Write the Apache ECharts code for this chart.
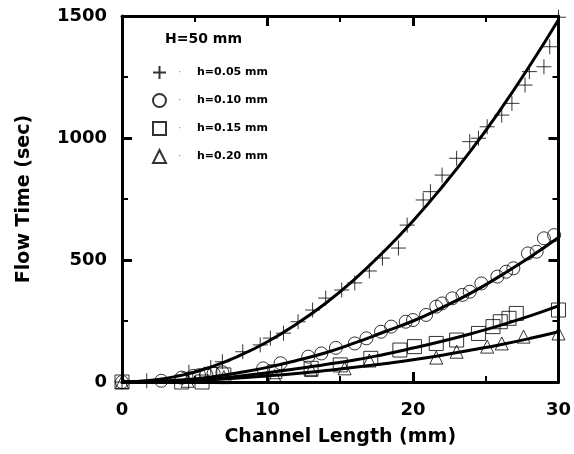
<!DOCTYPE html>
<html>
<head>
<meta charset="utf-8">
<script src="https://cdn.jsdelivr.net/npm/echarts@6/dist/echarts.min.js"></script>
<style>html,body{margin:0;padding:0;background:#fff}#c{width:574px;height:454px}</style>
</head>
<body>
<div id="c"></div>
<script>
// Tick labels
const xTicks = [0, 10, 20, 30];
const yTicks = [0, 500, 1000, 1500];

// Measured points (x = channel length mm, y = flow time s)
const h005 = [[0,0],[1.7,5],[4.6,40],[6.1,60],[6.9,83],[8.3,124],[9.5,152],[10.2,180],[11.1,200],[12.1,247],[13.1,295],[14.0,344],[15.1,377],[16.0,406],[17.0,455],[17.9,508],[19.0,549],[19.6,643],[20.7,746],[21.2,780],[22.0,848],[23.0,917],[23.9,985],[24.5,999],[25.1,1046],[26.1,1094],[26.8,1142],[27.7,1217],[28.0,1272],[29.0,1292],[29.4,1374],[30,1495]];
const h010 = [[0,0],[2.7,5],[4.1,18],[4.9,25],[5.3,28],[5.8,30],[6.3,35],[6.9,40],[9.7,56],[10.9,77],[12.8,104],[13.7,117],[14.7,140],[16.0,158],[16.8,179],[17.8,206],[18.5,227],[19.5,247],[20.0,254],[20.9,275],[21.6,309],[22.0,322],[22.7,343],[23.4,357],[23.9,370],[24.7,404],[25.8,432],[26.4,452],[26.9,466],[27.9,527],[28.5,534],[29.0,589],[29.7,602]];
const h015 = [[0,0],[4.1,0],[5.5,0],[7.0,29],[10.5,42],[13.0,56],[15.0,70],[17.1,97],[19.1,131],[20.1,145],[21.6,158],[23.0,172],[24.5,199],[25.5,227],[26.0,247],[26.6,261],[27.1,281],[30,295]];
const h020 = [[0,0],[4.5,5],[7.0,20],[10.5,25],[13.0,49],[15.3,56],[17.0,88],[21.6,100],[23.0,124],[25.1,145],[26.1,158],[27.6,186],[30,199]];

// Fitted curves at x = 0,2,...,30
const fitX = [0,2,4,6,8,10,12,14,16,18,20,22,24,26,28,30];
const fit005 = [0,7,26,59,106,165,238,323,422,535,660,799,950,1115,1294,1485];
const fit010 = [0,2,8,20,38,60,88,120,160,205,250,305,365,435,510,592];
const fit015 = [0,1,5,12,24,38,54,72,90,113,139,167,198,232,270,312];
const fit020 = [0,1,4,9,16,25,35,47,60,75,91,110,131,153,178,206];

const names = ['h=0.05 mm','h=0.10 mm','h=0.15 mm','h=0.20 mm'];
const FONT = 'DejaVu Sans';

const chart = echarts.init(document.getElementById('c'), null, {renderer:'canvas'});

const plusPath = 'path://M0,10L20,10M10,0L10,20';
const mk = (name, data, symbol, size) => ({
  name, type:'scatter', data, symbol, symbolSize:size, z:3,
  itemStyle:{color:'rgba(255,255,255,0)', borderColor:'#000', borderWidth:1},
  emphasis:{disabled:true}
});
const ln = (vals) => ({
  type:'line', data: fitX.map((x,i)=>[x, vals[i]]), smooth:true, showSymbol:false, z:4,
  lineStyle:{color:'#000', width:3}, emphasis:{disabled:true}, silent:true
});

const axisCommon = {
  axisLine:{show:true, onZero:false, lineStyle:{color:'#000', width:3}},
  axisTick:{show:true, inside:true, length:10, lineStyle:{color:'#000', width:3}},
  minorTick:{show:true, splitNumber:2, length:6, lineStyle:{color:'#000', width:2}},
  splitLine:{show:false}
};

chart.setOption({
  animation:false,
  backgroundColor:'#fff',
  title:{text:'H=50 mm', left:160, top:27, textStyle:{fontFamily:FONT, fontWeight:'bold', fontSize:14, color:'#000'}},
  legend:{
    data: names.map(n=>({name:n})), orient:'vertical', left:152, top:65, padding:0,
    itemWidth:13, itemHeight:13, itemGap:13,
    formatter: n => '{d|·}{t|' + n + '}',
    textStyle:{rich:{
      d:{width:19, padding:[0,0,0,7], color:'#888', fontSize:10},
      t:{fontFamily:FONT, fontWeight:'bold', fontSize:11, color:'#000'}
    }},
    selectedMode:false
  },
  grid:{left:122, right:12, top:16, bottom:72},
  xAxis:[
    Object.assign({type:'value', min:xTicks[0], max:xTicks[xTicks.length-1], interval:10, position:'bottom',
      axisLabel:{fontFamily:FONT, fontWeight:'bold', fontSize:18, color:'#000', margin:19, formatter: v => String(v)},
      name:'Channel Length (mm)', nameLocation:'middle', nameGap:46,
      nameTextStyle:{fontFamily:FONT, fontWeight:'bold', fontSize:19, color:'#000'}}, axisCommon),
    Object.assign({type:'value', min:0, max:30, interval:10, position:'top', axisLabel:{show:false}}, axisCommon)
  ],
  yAxis:[
    Object.assign({type:'value', min:yTicks[0], max:yTicks[yTicks.length-1], interval:500, position:'left',
      axisLabel:{fontFamily:FONT, fontWeight:'bold', fontSize:18, color:'#000', margin:15, formatter: v => String(v)},
      name:'Flow Time (sec)', nameLocation:'middle', nameGap:88,
      nameTextStyle:{fontFamily:FONT, fontWeight:'bold', fontSize:19, color:'#000'}}, axisCommon),
    Object.assign({type:'value', min:0, max:1500, interval:500, position:'right', axisLabel:{show:false}}, axisCommon)
  ],
  series:[
    mk(names[0], h005, plusPath, 15),
    mk(names[1], h010, 'circle', 13),
    mk(names[2], h015, 'rect', 14),
    mk(names[3], h020, 'triangle', 13),
    ln(fit005), ln(fit010), ln(fit015), ln(fit020)
  ]
});
</script>
</body>
</html>
